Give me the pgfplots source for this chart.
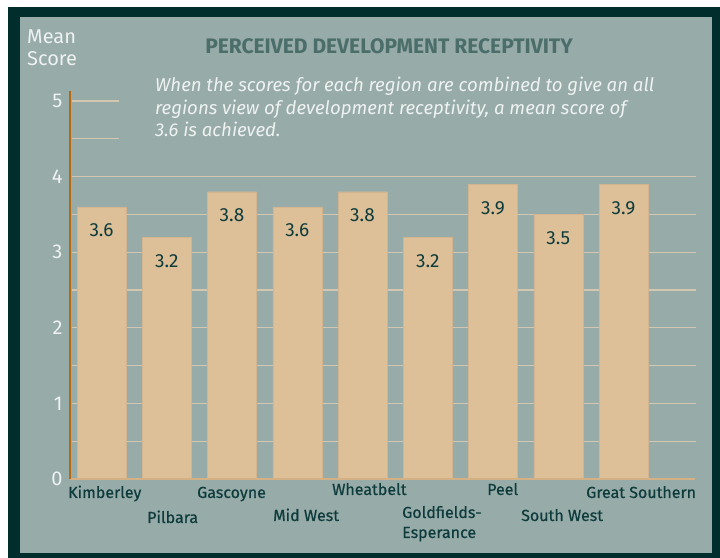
\documentclass[border=0pt]{standalone}
\usepackage{pgfplots}
\pgfplotsset{compat=1.18}
\usepackage{fontspec}
\setmainfont{Fira Sans}
\newfontfamily\medium{Fira Sans}[FakeBold=0.6]

\definecolor{frame}{HTML}{022D2D}
\definecolor{panel}{HTML}{97ABA9}
\definecolor{bar}{HTML}{DDBF98}
\definecolor{barbase}{HTML}{D3B185}
\definecolor{gridc}{HTML}{D3C7B2}
\definecolor{yaxis}{HTML}{B56A12}
\definecolor{lighttext}{HTML}{EEF2F1}
\definecolor{titlec}{HTML}{4B6E6B}
\definecolor{darktext}{HTML}{0E3C3C}

\begin{document}
\begin{tikzpicture}[x=1bp,y=1bp]
  \fill[white] (0,0) rectangle (720,558);
  \useasboundingbox (0,0) rectangle (720,558);
  \fill[frame] (8,0) rectangle (720,551);
  \fill[panel] (20,5) rectangle (712,541);
  \coordinate (O) at (101.5,79);

  % titles
  \node[anchor=base west, align=left, inner sep=0, text=lighttext,
        font=\fontsize{20bp}{22bp}\selectfont] at (27,492) {Mean\\Score};
  \node[anchor=base, inner sep=0, text=titlec, font=\fontsize{21bp}{24bp}\selectfont\bfseries] at (389,504)
    {PERCEIVED DEVELOPMENT RECEPTIVITY};
  \node[anchor=base west, align=left, inner sep=0, text=lighttext,
        font=\fontsize{18.6bp}{22.5bp}\selectfont\itshape] at (155,421)
    {When the scores for each region are combined to give an all\\
     regions view of development receptivity, a mean score of\\
     3.6 is achieved.};

  \begin{axis}[
      at={(O)}, anchor=origin,
      scale only axis, width=626bp, height=378bp,
      xmin=-0.483, xmax=9.111, ymin=0, ymax=5,
      clip=false,
      axis line style={draw=none},
      tick style={draw=none},
      xtick=\empty,
      ytick={0,1,2,3,4,5},
      /pgf/number format/assume math mode=true,
      yticklabel style={text=lighttext, font=\fontsize{20bp}{24bp}\selectfont, xshift=-4bp},
    ]
    % grid lines
    \pgfplotsinvokeforeach{0.5,1,1.5,2,2.5,3,3.5,4}{
      \draw[gridc, line width=1.3bp] (axis cs:-0.45,#1) -- (axis cs:9.111,#1);
    }
    \draw[gridc, line width=1.3bp] (axis cs:-0.45,4.5) -- (axis cs:0.268,4.5);
    \draw[gridc, line width=1.3bp] (axis cs:-0.45,5) -- (axis cs:0.268,5);

    \addplot[ybar, bar width=49bp, bar shift=0pt, fill=bar, draw=bar!95!black, line width=0.4bp,
      nodes near coords={\pgfmathprintnumber[fixed,fixed zerofill,precision=1]{\pgfplotspointmeta}},
      every node near coord/.append style={anchor=base, yshift=-30bp, text=darktext,
        font=\fontsize{19bp}{22bp}\selectfont}]
      coordinates {
        (0,3.6) (1,3.2) (2,3.8) (3,3.6) (4,3.8)
        (5,3.2) (6,3.9) (7,3.5) (8,3.9)
      };

    \draw[barbase, line width=2bp] (axis cs:-0.483,0) -- (axis cs:9.1,0);
    \draw[yaxis, line width=2bp] (axis cs:-0.483,0) -- (axis cs:-0.483,5.13);
  \end{axis}

  % category labels
  \begin{scope}[every node/.style={anchor=base west, inner sep=0, text=darktext,
      font=\medium\fontsize{16bp}{20bp}\selectfont}]
    \node at (68,60) {Kimberley};
    \node at (147,35) {Pilbara};
    \node at (197,60) {Gascoyne};
    \node at (273,37) {Mid West};
    \node at (332,63) {Wheatbelt};
    \node at (402,40) {Goldfields-};
    \node at (402,20) {Esperance};
    \node at (487,63) {Peel};
    \node at (521,37) {South West};
    \node at (586,60) {Great Southern};
  \end{scope}
\end{tikzpicture}
\end{document}
